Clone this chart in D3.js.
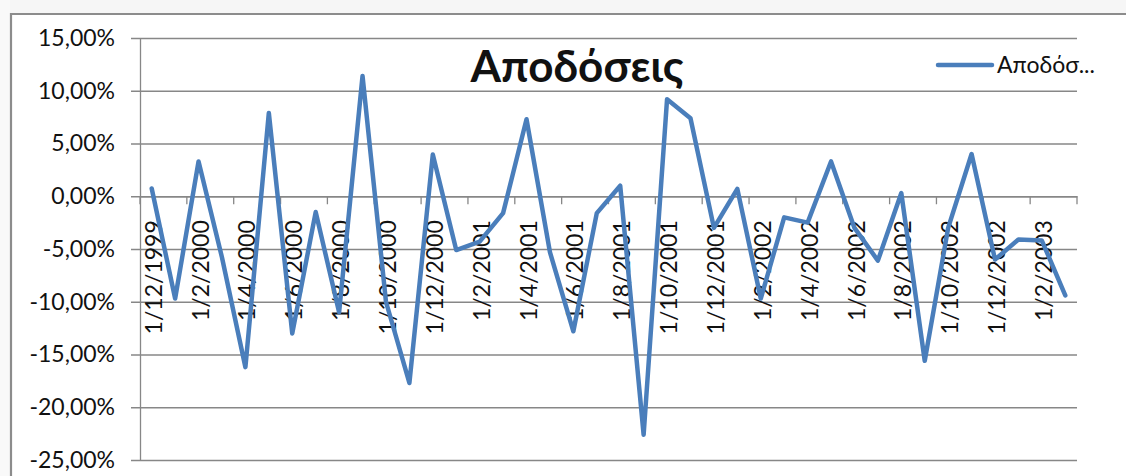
<!DOCTYPE html>
<html>
<head>
<meta charset="utf-8">
<script src="https://cdn.jsdelivr.net/npm/d3@7"></script>
<style>
    body { margin: 0; background: #fff; }
    text { font-family: Lato, "Open Sans", sans-serif; fill: #111; }
</style>
</head>
<body>
<div id="chart"></div>
<script>
// monthly dates, first day of each month
var months = [
    "1/12/1999", "1/1/2000", "1/2/2000", "1/3/2000", "1/4/2000", "1/5/2000",
    "1/6/2000", "1/7/2000", "1/8/2000", "1/9/2000", "1/10/2000", "1/11/2000",
    "1/12/2000", "1/1/2001", "1/2/2001", "1/3/2001", "1/4/2001", "1/5/2001",
    "1/6/2001", "1/7/2001", "1/8/2001", "1/9/2001", "1/10/2001", "1/11/2001",
    "1/12/2001", "1/1/2002", "1/2/2002", "1/3/2002", "1/4/2002", "1/5/2002",
    "1/6/2002", "1/7/2002", "1/8/2002", "1/9/2002", "1/10/2002", "1/11/2002",
    "1/12/2002", "1/1/2003", "1/2/2003", "1/3/2003"
];
// returns in percent
var returns = [
    0.74, -9.7, 3.3, -5.8, -16.2, 7.9,
    -13.0, -1.5, -11.0, 11.4, -10.0, -17.7,
    3.96, -5.1, -4.3, -1.6, 7.3, -5.3,
    -12.8, -1.6, 1.0, -22.6, 9.2, 7.4,
    -3.0, 0.7, -9.7, -2.0, -2.5, 3.3,
    -3.0, -6.1, 0.3, -15.6, -3.0, 4.0,
    -6.0, -4.1, -4.2, -9.4
];
var yTicks = [-25, -20, -15, -10, -5, 0, 5, 10, 15];
var title = "Αποδόσεις";
var legendLabel = "Αποδόσ...";

function init() {
    var w = 1126;
    var h = 476;
    var left = 140, right = 1077, top = 38, bottom = 460;
    var gridColor = "#878787";
    var lineColor = "#4a7ebb";

    // greek style numbers: comma as decimal point
    var locale = d3.formatLocale({decimal: ",", thousands: ".", grouping: [3], currency: ["", "€"], minus: "-"});
    var pct = locale.format(".2f");

    var svg = d3.select("#chart")
                .append("svg")
                .attr("width", w)
                .attr("height", h);

    // light strip outside the chart frame
    svg.append("rect").attr("x", 0).attr("y", 0).attr("width", w).attr("height", 13).attr("fill", "#f6f6f6");
    svg.append("rect").attr("x", 0).attr("y", 0).attr("width", 10).attr("height", h).attr("fill", "#f9f9f9");
    svg.append("path")
        .attr("d", "M11," + h + "V14H" + w)
        .attr("fill", "none")
        .attr("stroke", "#8c8c8c")
        .attr("stroke-width", 2.2);

    var x = d3.scaleBand()
                .domain(months)
                .range([left, right]);
    var y = d3.scaleLinear()
                .domain([-25, 15])
                .range([bottom, top]);

    // horizontal gridlines + y axis
    var yAxis = d3.axisLeft(y)
                .tickValues(yTicks)
                .tickSize(-(right - left))
                .tickSizeOuter(0)
                .tickPadding(25)
                .tickFormat(function(d) { return pct(d) + "%"; });
    var gy = svg.append("g")
                .attr("transform", "translate(" + left + ",0)")
                .call(yAxis);
    gy.select(".domain").attr("stroke", gridColor).attr("stroke-width", 1.3);
    gy.selectAll(".tick line").attr("stroke", gridColor).attr("stroke-width", 1.3).attr("x1", -9);
    gy.selectAll(".tick text")
        .attr("font-size", 23)
        .attr("font-family", "Lato, 'Open Sans', sans-serif")
        .attr("fill", "#111");

    // category axis sits on zero
    var every2 = months.filter(function(d, i) { return i % 2 === 0; });
    var xAxis = d3.axisBottom(x)
                .tickValues(every2)
                .tickSize(0)
                .tickSizeOuter(0);
    var gx = svg.append("g")
                .attr("transform", "translate(0," + y(0) + ")")
                .call(xAxis);
    gx.select(".domain").attr("stroke", gridColor).attr("stroke-width", 1.3);
    gx.selectAll(".tick text")
        .attr("font-size", 23)
        .attr("font-family", "Lato, 'Open Sans', sans-serif")
        .attr("fill", "#111")
        .attr("text-anchor", "end")
        .attr("transform", "translate(2,24) rotate(-90)")
        .attr("x", 0)
        .attr("y", 0)
        .attr("dy", "0.35em");

    // tick marks on category boundaries, every 2 months
    var marks = d3.range(0, months.length + 1, 2).map(function(i) {
        return i < months.length ? x(months[i]) : right;
    });
    svg.append("g").selectAll("line")
        .data(marks)
        .enter()
        .append("line")
        .attr("x1", function(d) { return d; })
        .attr("x2", function(d) { return d; })
        .attr("y1", y(0))
        .attr("y2", y(0) + 8)
        .attr("stroke", gridColor)
        .attr("stroke-width", 1.3);

    // the series line
    var line = d3.line()
                .x(function(d, i) { return x(months[i]) + x.bandwidth() / 2; })
                .y(function(d) { return y(d); });
    svg.append("path")
        .datum(returns)
        .attr("d", line)
        .attr("fill", "none")
        .attr("stroke", lineColor)
        .attr("stroke-width", 4.5)
        .attr("stroke-linejoin", "round")
        .attr("stroke-linecap", "round");

    // title
    svg.append("text")
        .attr("x", 577)
        .attr("y", 82)
        .attr("text-anchor", "middle")
        .attr("font-size", 44)
        .attr("font-weight", "bold")
        .text(title);

    // legend
    svg.append("line")
        .attr("x1", 938).attr("x2", 992)
        .attr("y1", 65).attr("y2", 65)
        .attr("stroke", lineColor)
        .attr("stroke-width", 4.5)
        .attr("stroke-linecap", "round");
    svg.append("text")
        .attr("x", 997)
        .attr("y", 73)
        .attr("font-size", 23)
        .text(legendLabel);
}

window.onload = init;
</script>
</body>
</html>
